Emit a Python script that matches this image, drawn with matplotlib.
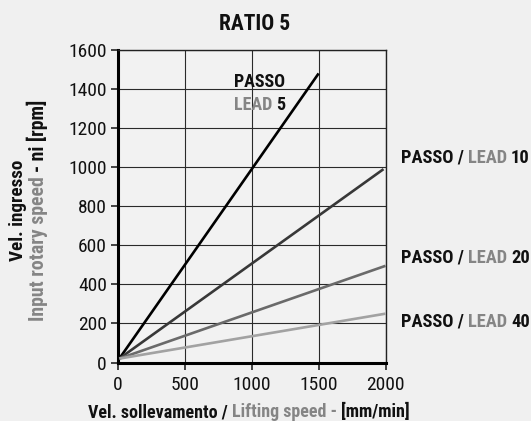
import matplotlib
matplotlib.use('Agg')
import matplotlib.pyplot as plt

plt.rcParams['font.family'] = ['Roboto Condensed', 'Roboto', 'DejaVu Sans']

# screw lead [mm] and the end points of each speed line
leads = [5, 10, 20, 40]
speed_start = [10, 10, 10, 10]
speed_end = [1500, 1985, 2000, 2000]
rpm_start = [20, 20, 20, 20]
rpm_end = [1480, 990, 495, 250]
line_colors = ['#000000', '#383838', '#6a6a6a', '#a2a2a2']

x_ticks = [0, 500, 1000, 1500, 2000]
y_ticks = [0, 200, 400, 600, 800, 1000, 1200, 1400, 1600]

BLACK = '#111111'
GREY = '#858585'
H = 421

fig = plt.figure(figsize=(5.31, 4.21), dpi=100, facecolor='#f0f0f0')
ax = fig.add_axes([118 / 531, 58.5 / 421, 267.5 / 531, 312.5 / 421])
ax.set_facecolor('#f2f2f2')

for i in range(len(leads)):
    ax.plot([speed_start[i], speed_end[i]], [rpm_start[i], rpm_end[i]],
            color=line_colors[i], lw=1.9, solid_capstyle='butt', zorder=3)

ax.set_xlim(0, 2000)
ax.set_ylim(0, 1600)
ax.set_xticks(x_ticks)
ax.set_yticks(y_ticks)
ax.grid(True, color='#2a2a2a', lw=0.8)
ax.set_axisbelow(True)
for side in ['top', 'right']:
    ax.spines[side].set_linewidth(1.0)
    ax.spines[side].set_color('#222222')
for side in ['left', 'bottom']:
    ax.spines[side].set_linewidth(2.2)
ax.tick_params(direction='out', length=5, width=1.1, labelsize=14, colors=BLACK)
ax.tick_params(axis='x', pad=5)
ax.tick_params(axis='y', pad=3)

renderer = fig.canvas.get_renderer()


def text_width(s, size):
    t = fig.text(0, 0, s, fontsize=size, fontweight='bold', transform=None)
    w = t.get_window_extent(renderer).width
    t.remove()
    return w


def multicolor(x, y, parts, size, rotation=0, center=False):
    # parts: (string, colour) pieces written one after the other on a baseline
    bar = text_width('|', size)
    full = ''.join(s for s, _ in parts)
    start = -(text_width(full + '|', size) - bar) / 2 if center else 0
    prefix = ''
    for s, c in parts:
        off = start + (text_width(prefix + '|', size) - bar if prefix else 0)
        px, py = (x, y + off) if rotation == 90 else (x + off, y)
        fig.text(px, py, s, color=c, fontsize=size, fontweight='bold',
                 ha='left', va='baseline', rotation=rotation,
                 rotation_mode='anchor', transform=None)
        prefix += s


fig.text(254.3, H - 29.5, 'RATIO 5', fontsize=15.5, fontweight='bold',
         color=BLACK, ha='center', va='baseline', transform=None)

# axis titles
multicolor(249, H - 417.3, [('Vel. sollevamento / ', BLACK),
                            ('Lifting speed - ', GREY),
                            ('[mm/min]', BLACK)], 13, center=True)
multicolor(23.3, H - 210, [('Vel. ingresso', BLACK)], 13.8,
           rotation=90, center=True)
multicolor(44.3, H - 210, [('Input rotary speed ', GREY),
                           ('- ni [rpm]', BLACK)], 14.2,
           rotation=90, center=True)

# lead labels
multicolor(233.7, H - 87.4, [('PASSO', BLACK)], 13)
multicolor(233.7, H - 110, [('LEAD ', GREY), (str(leads[0]), BLACK)], 13)
for lead, base in zip(leads[1:], [163, 262.9, 326.7]):
    multicolor(400.6, H - base, [('PASSO / ', BLACK), ('LEAD ', GREY),
                                 (str(lead), BLACK)], 13.3)

fig.savefig('out.png', dpi=100, facecolor=fig.get_facecolor())
